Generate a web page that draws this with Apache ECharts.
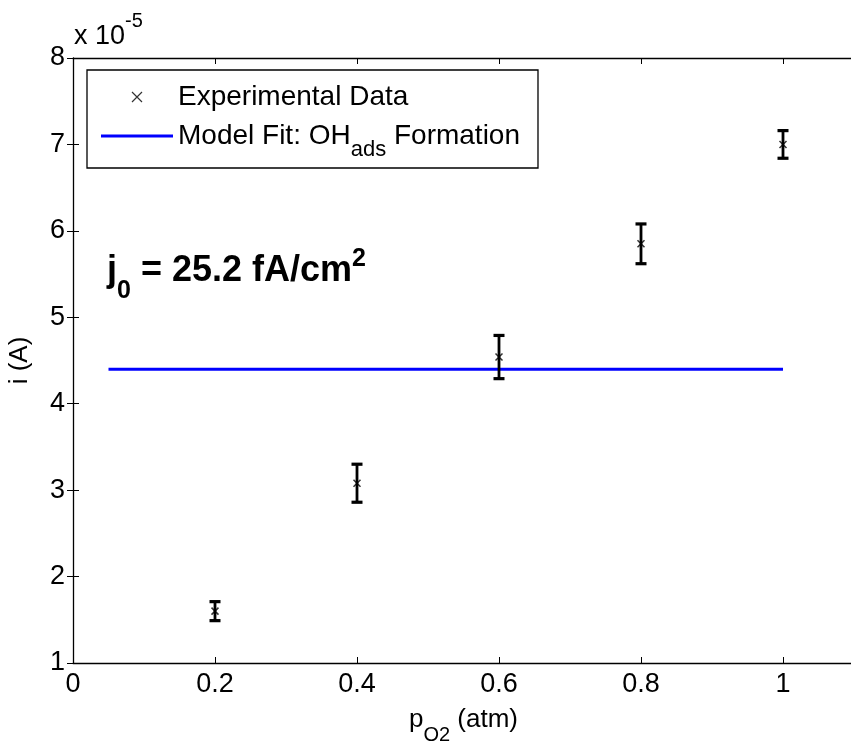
<!DOCTYPE html>
<html><head><meta charset="utf-8">
<script src="https://cdn.jsdelivr.net/npm/echarts@6/dist/echarts.min.js"></script>
<style>html,body{margin:0;padding:0;background:#fff}#c{width:851px;height:747px}</style>
</head><body><div id="c"></div>
<script>
// Data (current in units of 1e-5 A)
const pressures = [0.2, 0.4, 0.6, 0.8, 1.0];
const currents = [1.60, 3.08, 4.54, 5.85, 7.00];
const errors = [0.11, 0.22, 0.25, 0.23, 0.16];
const fitX = [0.05, 1.0];
const fitY = [4.40, 4.40];
const xTickLabels = ['0', '0.2', '0.4', '0.6', '0.8', '1'];
const yTickLabels = ['1', '2', '3', '4', '5', '6', '7', '8'];

const FONT = '"Liberation Sans", Arial, sans-serif';
const xPath = 'path://M0,0L10,10M10,0L0,10';
const linePath = 'path://M0,0L72,0L72,3L0,3Z';

const chart = echarts.init(document.getElementById('c'), null, {renderer: 'canvas'});
const option = {
  animation: false,
  backgroundColor: '#fff',
  grid: {left: 73, top: 58, width: 781, height: 605, containLabel: false, outerBoundsMode: 'none'},
  legend: {
    orient: 'vertical', left: 87, top: 70,
    padding: [13, 18, 7, 14], itemGap: 11,
    itemWidth: 72, itemHeight: 10,
    borderColor: '#000', borderWidth: 1.3, backgroundColor: '#fff',
    selectedMode: false,
    data: [
      {name: 'Experimental Data', icon: xPath, itemStyle: {color: 'transparent', borderColor: '#000', borderWidth: 1.2}},
      {name: 'Model Fit', icon: linePath, itemStyle: {color: '#0000ff', borderWidth: 0}}
    ],
    formatter: function (n) {
      if (n === 'Model Fit') return '{a|Model Fit: OH}{s|ads}{a| Formation}';
      return '{a|' + n + '}';
    },
    textStyle: {
      color: '#000', fontFamily: FONT,
      rich: {
        a: {fontSize: 28, lineHeight: 28, verticalAlign: 'top', color: '#000', fontFamily: FONT},
        s: {fontSize: 22, lineHeight: 28, padding: [17, 0, 0, 0], verticalAlign: 'top', color: '#000', fontFamily: FONT}
      }
    }
  },
  xAxis: [{
    type: 'value', min: 0, max: 1.1, interval: 0.2, position: 'bottom',
    name: '{a|p}{s|O2}{a| (atm)}', nameLocation: 'middle', nameGap: 44,
    nameTextStyle: {
      fontFamily: FONT, color: '#000',
      rich: {
        a: {fontSize: 26, lineHeight: 28, verticalAlign: 'top', color: '#000', fontFamily: FONT},
        s: {fontSize: 20, lineHeight: 24, padding: [18, 0, 0, 0], verticalAlign: 'top', color: '#000', fontFamily: FONT}
      }
    },
    axisLine: {show: true, lineStyle: {color: '#000', width: 1.3}},
    axisTick: {show: true, inside: true, length: 6, lineStyle: {color: '#000', width: 1}},
    axisLabel: {
      margin: 8, fontSize: 27, color: '#000', fontFamily: FONT,
      formatter: function (v) {
        const i = Math.round(v / 0.2);
        return (Math.abs(v - i * 0.2) < 1e-6 && i < xTickLabels.length) ? xTickLabels[i] : '';
      }
    },
    splitLine: {show: false}
  }, {
    type: 'value', min: 0, max: 1.1, interval: 0.2, position: 'top',
    axisLine: {show: true, lineStyle: {color: '#000', width: 1.3}},
    axisTick: {show: true, inside: true, length: 6, lineStyle: {color: '#000', width: 1}},
    axisLabel: {show: false}, splitLine: {show: false}
  }],
  yAxis: [{
    type: 'value', min: 1, max: 8, interval: 1, position: 'left',
    name: 'i (A)', nameLocation: 'middle', nameGap: 40,
    nameTextStyle: {fontSize: 26, color: '#000', fontFamily: FONT},
    axisLine: {show: true, lineStyle: {color: '#000', width: 1.3}},
    axisTick: {show: true, inside: true, length: 6, lineStyle: {color: '#000', width: 1}},
    axisLabel: {
      margin: 8, fontSize: 27, color: '#000', fontFamily: FONT,
      formatter: function (v) { return yTickLabels[Math.round(v) - 1] || ''; }
    },
    splitLine: {show: false}
  }, {
    type: 'value', min: 1, max: 8, interval: 1, position: 'right',
    axisLine: {show: false},
    axisTick: {show: true, inside: true, length: 6, lineStyle: {color: '#000', width: 1}},
    axisLabel: {show: false}, splitLine: {show: false}
  }],
  series: [
    {
      name: 'Experimental Data', type: 'scatter',
      symbol: xPath, symbolSize: 7,
      itemStyle: {color: 'transparent', borderColor: '#000', borderWidth: 1.5},
      data: pressures.map((p, i) => [p, currents[i]]), z: 4
    },
    {
      name: 'Model Fit', type: 'line', showSymbol: false, symbol: 'none',
      lineStyle: {color: '#0000ff', width: 3}, itemStyle: {color: '#0000ff'},
      data: fitX.map((x, i) => [x, fitY[i]]), z: 2
    },
    {
      name: 'errorbars', type: 'custom',
      data: pressures.map((p, i) => [p, currents[i] - errors[i], currents[i] + errors[i]]),
      encode: {x: 0, y: [1, 2]},
      renderItem: function (params, api) {
        const x = api.value(0);
        const lo = api.coord([x, api.value(1)]);
        const hi = api.coord([x, api.value(2)]);
        const w = 5.5;
        return {type: 'group', children: [
          {type: 'line', shape: {x1: lo[0], y1: lo[1], x2: hi[0], y2: hi[1]}, style: {stroke: '#000', lineWidth: 2.8}},
          {type: 'line', shape: {x1: lo[0] - w, y1: lo[1], x2: lo[0] + w, y2: lo[1]}, style: {stroke: '#000', lineWidth: 3.2}},
          {type: 'line', shape: {x1: hi[0] - w, y1: hi[1], x2: hi[0] + w, y2: hi[1]}, style: {stroke: '#000', lineWidth: 3.2}}
        ]};
      },
      z: 3
    }
  ],
  graphic: [
    {
      type: 'text', left: 74, top: 11,
      style: {
        text: '{a|x 10}{p|-5}',
        rich: {
          a: {fontSize: 27, lineHeight: 28, padding: [12, 0, 0, 0], verticalAlign: 'top', fill: '#000', fontFamily: FONT},
          p: {fontSize: 20, lineHeight: 22, verticalAlign: 'top', fill: '#000', fontFamily: FONT}
        }
      }
    },
    {
      type: 'text', left: 107, top: 247,
      style: {
        text: '{b|j}{s|0}{b| = 25.2 fA/cm}{p|2}',
        rich: {
          b: {fontSize: 36, fontWeight: 'bold', lineHeight: 36, padding: [6, 0, 0, 0], verticalAlign: 'top', fill: '#000', fontFamily: FONT},
          s: {fontSize: 25, fontWeight: 'bold', lineHeight: 28, padding: [32, 0, 0, 0], verticalAlign: 'top', fill: '#000', fontFamily: FONT},
          p: {fontSize: 25, fontWeight: 'bold', lineHeight: 28, verticalAlign: 'top', fill: '#000', fontFamily: FONT}
        }
      }
    }
  ]
};
chart.setOption(option);
</script>
</body></html>
